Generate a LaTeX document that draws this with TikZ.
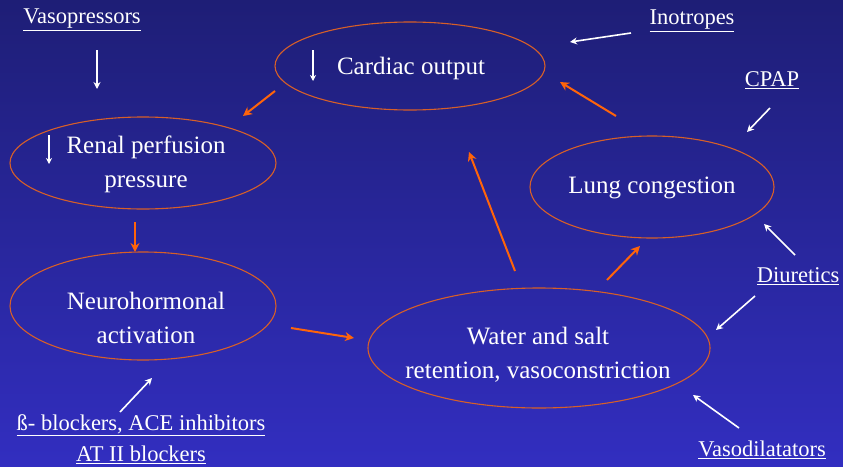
\documentclass[tikz,border=0pt]{standalone}
\usepackage{fontspec}
\setmainfont{Liberation Serif}
\usetikzlibrary{arrows.meta,shapes.geometric}
\definecolor{bgtop}{RGB}{30,30,118}
\definecolor{bgbot}{RGB}{50,46,192}
\definecolor{ell}{RGB}{215,95,40}
\definecolor{orarr}{RGB}{255,100,10}
\begin{document}
\begin{tikzpicture}[x=1pt,y=-1pt,
  oval/.style={ellipse, draw=ell, line width=1.1pt, inner sep=0pt},
  otxt/.style={text=white, inner sep=0pt, font=\fontsize{25}{34}\selectfont, align=center},
  lbl/.style={text=white, inner sep=0pt, font=\fontsize{22.5}{30}\selectfont, align=center},
  warr/.style={draw=white, line width=1.6pt, -{Stealth[length=7pt,width=7pt]}},
  oarr/.style={draw=orarr, line width=2pt, -{Stealth[length=9pt,width=9pt]}},
  darr/.style={draw=white, line width=1.4pt, -{Stealth[length=6pt,width=6pt]}}]
\shade[top color=bgtop, bottom color=bgbot] (0,0) rectangle (843,466);
\useasboundingbox (0,0) rectangle (843,466);
% ellipses
\node[oval, minimum width=270pt, minimum height=88pt] (co) at (410,66) {};
\node[oval, minimum width=266pt, minimum height=92pt] (rp) at (143,163) {};
\node[oval, minimum width=266pt, minimum height=108pt] (nh) at (143,306) {};
\node[oval, minimum width=244pt, minimum height=102pt] (lc) at (652,187) {};
\node[oval, minimum width=342pt, minimum height=120pt] (ws) at (539,348) {};
% ellipse texts
\node[otxt] (cot) at (411,68) {Cardiac output};
\node[otxt] (rpt) at (146,164) {Renal perfusion\\pressure};
\node[otxt] (nht) at (146,318) {Neurohormonal\\activation};
\node[otxt] (lct) at (652,188) {Lung congestion};
\node[otxt] (wst) at (538,355) {Water and salt\\retention, vasoconstriction};
% labels
\node[lbl] (vp) at (82,20) {\underline{Vasopressors}};
\node[lbl] (ino) at (692,21) {\underline{Inotropes}};
\node[lbl] (cpap) at (772,80) {\underline{CPAP}};
\node[lbl] (diu) at (798,276) {\underline{Diuretics}};
\node[lbl] (vd) at (762,450) {\underline{Vasodilatators}};
\node[lbl] (bb) at (141,425) {\underline{ß- blockers, ACE inhibitors}};
\node[lbl] (at) at (141,455) {\underline{AT II blockers}};
% coordinates for arrow ends
\coordinate (vpA) at (97,50);   \coordinate (vpB) at (97,89);
\coordinate (inA) at (631,33);  \coordinate (inB) at (570,42);
\coordinate (cpA) at (770,108); \coordinate (cpB) at (747,132);
\coordinate (d1A) at (795,255); \coordinate (d1B) at (764,224);
\coordinate (d2A) at (755,296); \coordinate (d2B) at (716,330);
\coordinate (vdA) at (739,428); \coordinate (vdB) at (693,395);
\coordinate (bbA) at (120,412); \coordinate (bbB) at (152,378);
\coordinate (c1A) at (275,91);  \coordinate (c1B) at (243,116);
\coordinate (c2A) at (135,222); \coordinate (c2B) at (135,252);
\coordinate (c3A) at (291,328); \coordinate (c3B) at (354,338);
\coordinate (c4A) at (515,271); \coordinate (c4B) at (469,152);
\coordinate (c5A) at (607,280); \coordinate (c5B) at (640,246);
\coordinate (c6A) at (616,116); \coordinate (c6B) at (560,82);
\coordinate (u1A) at (313,50);  \coordinate (u1B) at (313,81);
\coordinate (u2A) at (49,135);  \coordinate (u2B) at (49,164);
% white arrows
\draw[warr] (vpA) -- (vpB);
\draw[warr] (inA) -- (inB);
\draw[warr] (cpA) -- (cpB);
\draw[warr] (d1A) -- (d1B);
\draw[warr] (d2A) -- (d2B);
\draw[warr] (vdA) -- (vdB);
\draw[warr] (bbA) -- (bbB);
\draw[darr] (u1A) -- (u1B);
\draw[darr] (u2A) -- (u2B);
% orange arrows
\draw[oarr] (c1A) -- (c1B);
\draw[oarr] (c2A) -- (c2B);
\draw[oarr] (c3A) -- (c3B);
\draw[oarr] (c4A) -- (c4B);
\draw[oarr] (c5A) -- (c5B);
\draw[oarr] (c6A) -- (c6B);
\end{tikzpicture}
\end{document}
